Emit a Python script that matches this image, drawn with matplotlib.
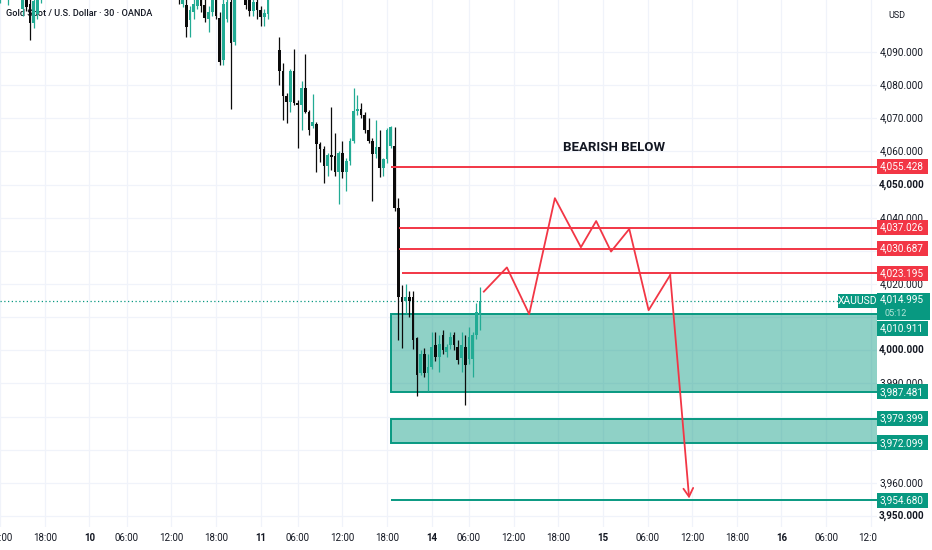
import numpy as np
import matplotlib.pyplot as plt
from matplotlib.patches import Rectangle
from matplotlib.colors import to_rgba

plt.rcParams['font.family'] = ['Roboto', 'DejaVu Sans']

# XAUUSD 30 min candles, bar 0 = first bar of the 10th session
first_bar = -24
opens = [4106, 4112, 4107, 4110, 4113, 4111, 4103, 4110, 4104.5, 4098.8, 4101.5, 4106,
         4111, 4114, 4116, 4119, 4117, 4121, 4124, 4122, 4119, 4123, 4127, 4126,
         4124, 4121, 4125, 4130, 4128, 4124, 4121, 4123, 4126, 4122, 4118, 4120,
         4123, 4119, 4115, 4117, 4120, 4116, 4113, 4115, 4112, 4110, 4112, 4111,
         4109, 4104.5, 4104.2, 4099.7, 4102, 4104, 4108, 4104.2, 4100, 4102, 4108, 4100.3,
         4087.5, 4100, 4105, 4093, 4108, 4112, 4109, 4106, 4102.5, 4105, 4102.7, 4100.5,
         4101.5, 4107, 4110, 4090.6, 4084.4, 4076.6, 4074.8, 4084.4, 4074.7, 4074, 4079.2, 4072,
         4067.6, 4068.2, 4062.2, 4060.7, 4055.6, 4058.8, 4058.6, 4053.9, 4059.5, 4053.9, 4057, 4063.2,
         4072.2, 4072.8, 4071, 4066.5, 4063.2, 4059.1, 4061.2, 4055.1, 4057.6, 4061.5, 4061.5, 4042.9,
         4016.2, 4014.9, 4016.2, 4016, 4003.6, 3993, 3999, 3993, 3995, 4001.5, 3998, 4004.6,
         3999.6, 4001.6, 4004.6, 4001, 3997.6, 4001, 3997.5, 3997.5, 4004.6, 4010.5]
highs = [4113, 4114, 4113, 4116, 4117, 4113, 4109, 4112, 4106, 4106.5, 4110, 4113,
         4116, 4118, 4121, 4123, 4122, 4126, 4128, 4125, 4124, 4129, 4131, 4130,
         4128, 4126, 4132, 4134, 4131, 4127, 4125, 4128, 4129, 4124, 4122, 4125,
         4126, 4121, 4119, 4122, 4123, 4119, 4117, 4118, 4115, 4114, 4116, 4114,
         4112, 4112, 4107, 4104, 4106, 4110, 4110, 4106, 4104, 4108, 4110, 4102,
         4106, 4107, 4106.5, 4110, 4115, 4114, 4111, 4108, 4107, 4107, 4104, 4103,
         4108, 4113, 4112, 4094.5, 4086.8, 4077.5, 4085, 4091, 4075.5, 4081.3, 4089.3, 4072.5,
         4077.3, 4069, 4063, 4061.5, 4059.5, 4073.3, 4065.6, 4060, 4063.2, 4058, 4064, 4079.2,
         4077.1, 4074.5, 4072, 4070, 4064, 4069.5, 4066.5, 4058, 4067, 4067.8, 4067.5, 4045.9,
         4019.8, 4020, 4018, 4018, 4004, 4000, 4000.6, 3999, 4005.6, 4005.6, 4004.6, 4006,
         4002, 4005.6, 4005.5, 4003, 4005.6, 4004.6, 4007, 4005.5, 4014.2, 4019.2]
lows = [4104.8, 4106.2, 4104.3, 4108, 4109, 4106.5, 4101, 4102.5, 4093.6, 4097.2, 4100, 4104.9,
        4109, 4111, 4113, 4116, 4114, 4119, 4120, 4117, 4116, 4121, 4124, 4122,
        4119, 4118, 4123, 4126, 4123, 4119, 4117, 4120, 4121, 4116, 4114, 4117,
        4118, 4113, 4111, 4114, 4115, 4111, 4110, 4111, 4108, 4107, 4109, 4107.5,
        4104.5, 4103.6, 4094.5, 4094.5, 4100, 4103, 4102, 4099, 4096, 4101, 4100, 4086,
        4086, 4099, 4072.8, 4092, 4106.5, 4106.5, 4103, 4101, 4101, 4100, 4097.8, 4097.8,
        4100, 4106.5, 4106.5, 4080, 4069.5, 4068.6, 4072, 4074, 4061, 4066.5, 4071.5, 4065,
        4067, 4053.8, 4056.8, 4050.5, 4052.5, 4054.4, 4052.5, 4044, 4052, 4048, 4056, 4062.5,
        4071, 4070, 4065.5, 4062.5, 4044.9, 4058, 4052.4, 4052.6, 4056.5, 4061, 4042, 4003.1,
        4000.7, 4011, 4009.9, 4000.5, 3986.1, 3992.5, 3992, 3987.6, 3994.5, 3996.8, 3993.5, 3999,
        3998, 4000.5, 4000, 3996, 3993.5, 3983.5, 3996, 3992, 4003.5, 4006.1]
closes = [4111, 4107, 4110, 4113, 4111, 4108, 4108, 4103.5, 4098.8, 4105.5, 4108, 4111,
          4114, 4116, 4119, 4117, 4121, 4124, 4122, 4119, 4123, 4127, 4126, 4124,
          4121, 4125, 4130, 4128, 4124, 4121, 4123, 4126, 4122, 4118, 4120, 4123,
          4119, 4115, 4117, 4120, 4116, 4113, 4115, 4112, 4110, 4112, 4111, 4109,
          4107, 4110, 4097.5, 4102.7, 4104.5, 4108, 4104, 4100.3, 4102, 4106.5, 4101, 4087,
          4104.5, 4105, 4092.7, 4108, 4112, 4109, 4104.2, 4102.5, 4105, 4102.7, 4100.5, 4101.7,
          4106.5, 4110, 4108, 4084.4, 4076.6, 4074.8, 4084.4, 4074.7, 4074, 4079.2, 4072, 4066.5,
          4068.8, 4062.2, 4060.7, 4055.6, 4058.8, 4058.2, 4053.9, 4059.5, 4053.9, 4057, 4063.2, 4072.2,
          4072.8, 4071, 4066.5, 4063.2, 4059.1, 4061.2, 4055.1, 4057.6, 4066.5, 4067.5, 4042.9, 4016.2,
          4014.6, 4016.2, 4014.8, 4003.2, 3992.6, 3999, 3993, 3995, 4001, 3998, 4002, 4000,
          4001, 4004, 4001.6, 3997.1, 4001.6, 3995.6, 4004.1, 4004.6, 4011.7, 4014.995]

# time axis (bar index) - 23h sessions in history, 24h days in the future
tick_bars = [-24, -12, 0, 10, 22, 34, 46, 56, 68, 80, 92, 102, 114, 126,
             138, 150, 162, 174, 186, 198, 210]
tick_labels = ['12:00', '18:00', '10', '06:00', '12:00', '18:00', '11', '06:00', '12:00', '18:00',
               '14', '06:00', '12:00', '18:00', '15', '06:00', '12:00', '18:00', '16', '06:00', '12:00']
day_labels = ['10', '11', '14', '15', '16']

# drawn levels
red_levels = [4055.428, 4037.026, 4030.687, 4023.195]
red_starts = [81.0, 83.3, 83.3, 84.1]
zone_upper = (3987.481, 4010.911)
zone_lower = (3972.099, 3979.399)
target_level = 3954.680
zone_start = 81.0
last_price = 4014.995
countdown = '05:12'

# projected path
path_x = [106.0, 112.2, 118.2, 125.1, 132.1, 136.2, 140.2, 145.1, 150.3, 156.1, 161.2]
path_y = [4017.7, 4025.0, 4010.9, 4045.9, 4031.1, 4039.0, 4029.8, 4036.6, 4012.1, 4022.7, 3955.3]

price_ticks = list(range(3950, 4091, 10))

GREEN = '#089981'
CANDLE_UP = '#22ab94'
CANDLE_DN = '#0b0b0b'
RED = '#f23645'
TXT = '#131722'
GRID = '#f0f3fa'

W, H = 932, 550
plot_right, plot_bottom = 877, 527
px_usd = 3.314
top_price = 4105.7
px_bar, bar0_px = 3.72, 89.5

fig = plt.figure(figsize=(W / 100, H / 100), dpi=100)
ax = fig.add_axes([0, 1 - plot_bottom / H, plot_right / W, plot_bottom / H])
x_max = (plot_right - bar0_px) / px_bar
ax.set_xlim(-bar0_px / px_bar, x_max)
ax.set_ylim(top_price - plot_bottom / px_usd, top_price)
for s in ax.spines.values():
    s.set_visible(False)
ax.set_yticks(price_ticks)
ax.set_xticks(tick_bars)
ax.set_xticklabels(tick_labels)
ax.tick_params(length=0, labelleft=False, labelsize=7, labelcolor=TXT, pad=4.5)
for lab in ax.get_xticklabels():
    if lab.get_text() in day_labels:
        lab.set_fontweight('bold')
ax.grid(color=GRID, lw=0.9, zorder=0)
ax.set_axisbelow(True)

# candles
o, h, l, c = map(np.array, (opens, highs, lows, closes))
x = first_bar + np.arange(len(o))
cols = np.where(c >= o, CANDLE_UP, CANDLE_DN)
ax.vlines(x, l, h, colors=cols, lw=0.9, zorder=3)
ax.bar(x, np.maximum(np.abs(c - o), 0.35), bottom=np.minimum(o, c), width=0.72,
       color=cols, lw=0, zorder=4)

ax.axhline(last_price, color=GREEN, lw=0.9, ls=(0, (1, 2)), zorder=2)

# zones and levels
for lo, hi in (zone_upper, zone_lower):
    ax.add_patch(Rectangle((zone_start, lo), x_max + 5 - zone_start, hi - lo,
                           facecolor=to_rgba(GREEN, 0.45), edgecolor=GREEN, lw=1.4, zorder=2))
ax.hlines(target_level, zone_start, x_max + 5, color=GREEN, lw=1.4, zorder=2)
ax.hlines(red_levels, red_starts, x_max + 5, color=RED, lw=1.4, zorder=5)

ax.plot(path_x[:-1], path_y[:-1], color=RED, lw=1.3, zorder=6)
ax.annotate('', xy=(path_x[-1], path_y[-1]), xytext=(path_x[-2], path_y[-2]),
            arrowprops=dict(arrowstyle='->,head_length=0.6,head_width=0.35', color=RED,
                            lw=1.3, shrinkA=0, shrinkB=0), zorder=6)

ax.text(140.9, 4061.2, 'BEARISH BELOW', fontsize=9.5, fontweight='bold', color=TXT,
        ha='center', va='center', zorder=6)
ax.text(6 / plot_right, 1 - 13 / plot_bottom, 'Gold Spot / U.S. Dollar \u00b7 30 \u00b7 OANDA',
        transform=ax.transAxes, fontsize=6.6, fontweight='medium', color=TXT,
        ha='left', va='center', zorder=2)

# symbol tag at the right of the pane
tag_x0 = (838.3 - bar0_px) / px_bar
ax.add_patch(Rectangle((tag_x0, last_price - 2.1), x_max + 1 - tag_x0, 4.2,
                       facecolor=GREEN, lw=0, zorder=7))
ax.text((tag_x0 + x_max) / 2, last_price, 'XAUUSD', fontsize=7.5, color='white',
        ha='center', va='center', zorder=8)

# price scale
axp = fig.add_axes([plot_right / W, 0, 1 - plot_right / W, 1])
axp.set_zorder(5)
axp.set_facecolor('white')
axp.set_xlim(0, 1)
axp.set_ylim(top_price - H / px_usd, top_price)
axp.set_xticks([])
axp.set_yticks([])
for s in axp.spines.values():
    s.set_visible(False)

tag_h = 4.6
box_w = 51 / (W - plot_right)
lab_x = 0.45
label_shift = 4.3  # the 4,010.911 tag is pushed below the last-price tag
last_box = (last_price - 5.8, last_price + 2.4)  # last price + countdown block
tag_centers = red_levels + [zone_lower[0], zone_lower[1], zone_upper[0], target_level,
                            zone_upper[1] - label_shift]

for p in price_ticks:
    # the scale hides a round label that sits under a price tag
    if min(abs(p - t) for t in tag_centers) < 2.3 or last_box[0] - 2 < p < last_box[1] + 2:
        continue
    axp.text(lab_x, p, f'{p:,.3f}', fontsize=7.2, color=TXT, ha='center', va='center',
             fontweight='bold' if p % 50 == 0 else 'normal')
axp.text(0.36, top_price - 15 / px_usd, 'USD', fontsize=6.5, color=TXT, ha='center', va='center')


def price_tag(val, color, center=None):
    yc = val if center is None else center
    axp.add_patch(Rectangle((0, yc - tag_h / 2), box_w, tag_h, facecolor=color, lw=0, zorder=3))
    axp.text(lab_x, yc, f'{val:,.3f}', fontsize=7.2, color='white', ha='center', va='center', zorder=4)


for v in red_levels:
    price_tag(v, RED)
for v in (zone_lower[0], zone_lower[1], zone_upper[0], target_level):
    price_tag(v, GREEN)
price_tag(zone_upper[1], GREEN, center=zone_upper[1] - label_shift)

# last price with countdown
axp.add_patch(Rectangle((0, last_box[0]), box_w + 0.03, last_box[1] - last_box[0],
                        facecolor=GREEN, lw=0, zorder=3))
axp.text(lab_x, last_price + 0.5, f'{last_price:,.3f}', fontsize=7.2, color='white',
         ha='center', va='center', zorder=4)
axp.text(0.34, last_price - 3.9, countdown, fontsize=6.5, color='#b5e6da',
         ha='center', va='center', zorder=4)

fig.savefig('out.png', dpi=100)
